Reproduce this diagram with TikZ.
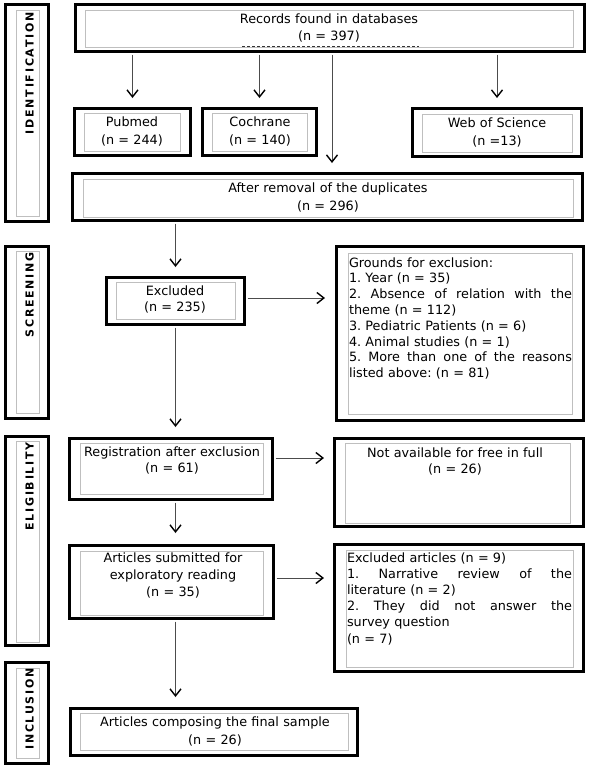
\documentclass[tikz,border=0pt]{standalone}
\usepackage{fontspec}
\setmainfont{DejaVu Sans}
\newfontfamily\sidefont[LetterSpace=16]{DejaVu Sans Bold}
\usetikzlibrary{arrows.meta,fit,calc}
\tikzset{
  obox/.style={draw=black, line width=3pt, inner sep=0pt},
  ibox/.style={draw=black!25, line width=0.9pt, inner sep=0pt},
  txt/.style={inner sep=0pt, outer sep=0pt, anchor=base, text width=300pt, align=center, font=\fontsize{12.8}{#1}\selectfont},
  txt/.default=17pt,
  ltxt/.style={inner sep=0pt, outer sep=0pt, anchor=base west, text width=#1, align=left, font=\fontsize{12.8}{15.8}\selectfont},
  side/.style={inner sep=0pt, rotate=90, anchor=east, text height=8pt, text depth=0pt, font=\sidefont\fontsize{11}{12}\selectfont},
  arr/.style={draw=black!70, line width=0.9pt, shorten <=1.5pt,
    -{Straight Barb[length=7pt,width=11pt,line width=1.4pt,color=black]}}
}
\newcommand\jline[2]{\makebox[#1]{#2}}
\begin{document}
\frenchspacing
\begin{tikzpicture}[x=1pt,y=-1pt]
\useasboundingbox[fill=white] (0,0) rectangle (589,769);

% side labels
\node[obox, fit={(5.5,4.5)(48.5,221.5)}] (sid) {};
\node[ibox, fit={(16,10)(39,216)}] (sidi) {};
\node[side] (sidt) at (29.5,12) {IDENTIFICATION};
\node[obox, fit={(5.5,246.5)(48.5,418.5)}] (sscr) {};
\node[ibox, fit={(16,251)(39,413)}] (sscri) {};
\node[side] (sscrt) at (29.5,252) {SCREENING};
\node[obox, fit={(5.5,436.5)(48.5,645.5)}] (seli) {};
\node[ibox, fit={(16,441)(39,642)}] (selii) {};
\node[side] (selit) at (29.5,442) {ELIGIBILITY};
\node[obox, fit={(5.5,662.5)(48.5,763.5)}] (sinc) {};
\node[ibox, fit={(16,668)(39,758)}] (sinci) {};
\node[side] (sinct) at (29.5,668) {INCLUSION};

% records
\node[obox, fit={(75.5,4.5)(584.5,51.5)}] (rec) {};
\node[ibox, fit={(85,10)(573,47)}] (reci) {};
\node[txt] (rect) at (329,23) {Records found in databases\\(n = 397)};
\draw[black!80, densely dashed, line width=0.8pt] (242,46) -- (419,46);

\node[obox, fit={(74.5,108.5)(190.5,155.5)}] (pub) {};
\node[ibox, fit={(84,113)(180,151)}] (pubi) {};
\node[txt=18pt] (pubt) at (132,126) {Pubmed\\(n = 244)};

\node[obox, fit={(202.5,108.5)(316.5,155.5)}] (coc) {};
\node[ibox, fit={(212,113)(307,151)}] (coci) {};
\node[txt=18pt] (coct) at (260,126) {Cochrane\\(n = 140)};

\node[obox, fit={(412.5,108.5)(581.5,156.5)}] (wos) {};
\node[ibox, fit={(422,114)(572,152)}] (wosi) {};
\node[txt=18pt] (wost) at (497,127) {Web of Science\\(n =13)};

\node[obox, fit={(72.5,173.5)(582.5,220.5)}] (rem) {};
\node[ibox, fit={(83,179)(573,217)}] (remi) {};
\node[txt=18pt] (remt) at (328,192) {After removal of the duplicates\\(n = 296)};

\node[obox, fit={(106.5,277.5)(244.5,324.5)}] (exc) {};
\node[ibox, fit={(116,282)(235,319)}] (exci) {};
\node[txt=16pt] (exct) at (175,295) {Excluded\\(n = 235)};

\node[obox, fit={(336.5,246.5)(583.5,420.5)}] (gro) {};
\node[ibox, fit={(348,253)(572,414)}] (groi) {};
\node[ltxt=224pt] (grot) at (349,267) {Grounds for exclusion:\\
1. Year (n = 35)\\
\jline{223pt}{2.\hfill Absence\hfill of\hfill relation\hfill with\hfill the}\\
theme (n = 112)\\
3. Pediatric Patients (n = 6)\\
4. Animal studies (n = 1)\\
\jline{223pt}{5.\hfill More\hfill than\hfill one\hfill of\hfill the\hfill reasons}\\
listed above: (n = 81)};

\node[obox, fit={(69.5,438.5)(272.5,499.5)}] (reg) {};
\node[ibox, fit={(80,443)(263,494)}] (regi) {};
\node[txt=16pt] (regt) at (172,456) {Registration after exclusion\\(n = 61)};

\node[obox, fit={(334.5,438.5)(583.5,526.5)}] (nav) {};
\node[ibox, fit={(345,443)(570,523)}] (navi) {};
\node[txt=16pt] (navt) at (455,457) {Not available for free in full\\(n = 26)};

\node[obox, fit={(69.5,545.5)(273.5,618.5)}] (art) {};
\node[ibox, fit={(80,551)(263,615)}] (arti) {};
\node[txt=17pt] (artt) at (173,562) {Articles submitted for\\exploratory reading\\(n = 35)};

\node[obox, fit={(334.5,544.5)(583.5,671.5)}] (exa) {};
\node[ibox, fit={(346,550)(573,667)}] (exai) {};
\node[ltxt=226pt] (exat) at (347,562) {Excluded articles (n = 9)\\[0.4pt]
\jline{225pt}{1.\hfill Narrative\hfill review\hfill of\hfill the}\\[0.4pt]
literature (n = 2)\\[0.4pt]
\jline{225pt}{2.\hfill They\hfill did\hfill not\hfill answer\hfill the}\\[0.4pt]
survey question\\[0.4pt]
(n = 7)};

\node[obox, fit={(70.5,708.5)(357.5,755.5)}] (fin) {};
\node[ibox, fit={(80,713)(348,750)}] (fini) {};
\node[txt=18pt] (fint) at (215,726) {Articles composing the final sample\\(n = 26)};

% connectors
\draw[arr, shorten >=9pt] (rec.south -| pub.north) -- (pub.north);
\draw[arr, shorten >=9pt] (rec.south -| coc.north) -- (coc.north);
\draw[arr, shorten >=9pt] (rec.south -| wos.north) -- (wos.north);
\coordinate (m1) at ([xshift=4.5pt]rem.north);
\draw[arr, shorten >=9pt] (rec.south -| m1) -- (m1);
\draw[arr, shorten >=9pt] (rem.south -| exc.north) -- (exc.north);
\coordinate (e1) at ([yshift=3pt]exc.east);
\draw[arr, shorten >=10pt] (e1) -- (e1 -| gro.west);
\draw[arr, shorten >=10pt] (exc.south) -- (exc.south |- reg.north);
\coordinate (r1) at ([yshift=11pt]reg.east);
\draw[arr, shorten >=9pt] (r1) -- (r1 -| nav.west);
\draw[arr, shorten >=11pt] (exc.south |- reg.south) -- (exc.south |- art.north);
\coordinate (a1) at ([yshift=4pt]art.east);
\draw[arr, shorten >=9pt] (a1) -- (a1 -| exa.west);
\draw[arr, shorten >=10pt] (exc.south |- art.south) -- (exc.south |- fin.north);
\end{tikzpicture}
\end{document}
